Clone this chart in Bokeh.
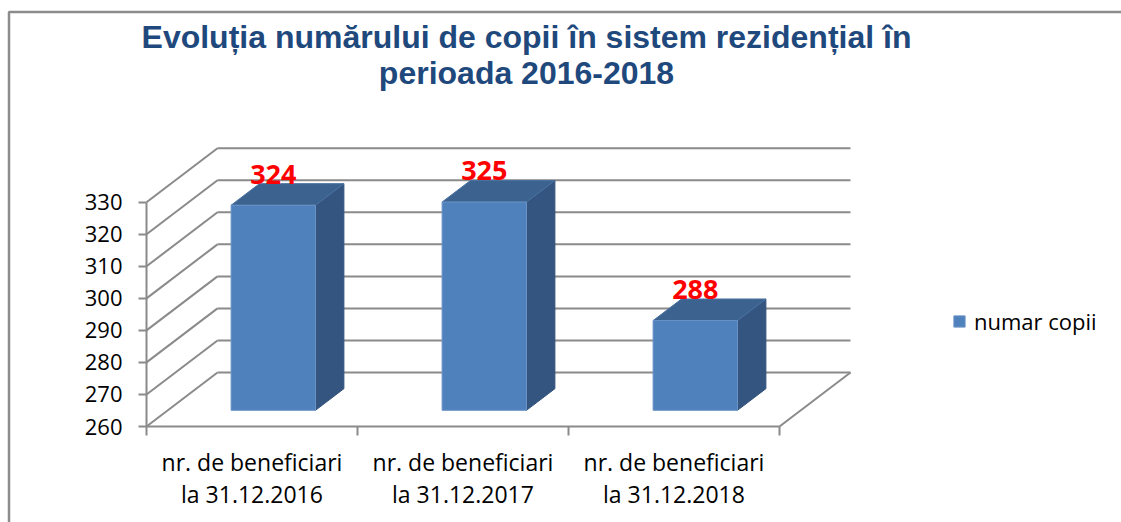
import numpy as np
from bokeh.plotting import figure
from bokeh.models import Range1d, LinearAxis, FixedTicker, Legend, LegendItem, Grid
from bokeh.core.properties import value
from bokeh.embed import file_html
from bokeh.resources import INLINE

# ---------------- data ----------------
categories = [
    "nr. de beneficiari\nla 31.12.2016",
    "nr. de beneficiari\nla 31.12.2017",
    "nr. de beneficiari\nla 31.12.2018",
]
numar_copii = [324, 325, 288]
y_ticks = [260, 270, 280, 290, 300, 310, 320, 330]
series_name = "numar copii"
title_lines = [
    "Evoluția numărului de copii în sistem rezidențial în",
    "perioada 2016-2018",
]

# ---------------- layout ----------------
W, H = 1121, 522
X0 = 146.0   # px where the category axis starts
XU = 211.0   # px per category
Y0 = 426.0   # px (from top) of the value-axis base
YU = 3.204   # px per value unit
BASE = y_ticks[0]
TOP = y_ticks[-1]
N = len(categories)


def fx(px):
    return (px - X0) / XU


def fy(py):
    return BASE + (Y0 - py) / YU


DX = 71.0 / XU       # full depth, x units
DY = 54.0 / YU       # full depth, value units
D0, D1 = 0.3, 0.7    # bar depth span
HALF = 0.2           # half bar width (category units)

GRID = "#8A8A8A"
FRONT = "#4F81BD"
SIDE = "#34557F"
TOPC = "#3C6390"

p = figure(width=W, height=H, output_backend="svg", toolbar_location=None,
           x_range=Range1d(fx(0), fx(W)), y_range=Range1d(fy(H), fy(0)),
           x_axis_location=None, y_axis_location=None, min_border=0)
p.outline_line_color = None
p.background_fill_color = "white"
p.border_fill_color = "white"

# chart-area border (top + left)
p.line(x=[fx(8.5), fx(8.5), fx(W + 5)], y=[fy(H + 5), fy(11.5), fy(11.5)],
       line_color="#8C8C8C", line_width=2.5)

# ---------------- walls ----------------
nt = len(y_ticks)
p.segment(x0=[DX] * nt, y0=[t + DY for t in y_ticks],
          x1=[N + DX] * nt, y1=[t + DY for t in y_ticks],
          line_color=GRID, line_width=2)
p.segment(x0=[0] * nt, y0=y_ticks, x1=[DX] * nt, y1=[t + DY for t in y_ticks],
          line_color=GRID, line_width=2)
p.segment(x0=[N], y0=[BASE], x1=[N + DX], y1=[BASE + DY],
          line_color=GRID, line_width=2)

# ---------------- bars ----------------
cx = np.arange(N) + 0.5
v = np.array(numar_copii, dtype=float)
L0 = cx - HALF + D0 * DX
R0 = cx + HALF + D0 * DX
L1 = cx - HALF + D1 * DX
R1 = cx + HALF + D1 * DX
yb0 = BASE + D0 * DY
yb1 = BASE + D1 * DY
yt0 = v + D0 * DY
yt1 = v + D1 * DY

side_xs = [[R0[i], R1[i], R1[i], R0[i]] for i in range(N)]
side_ys = [[yb0, yb1, yt1[i], yt0[i]] for i in range(N)]
top_xs = [[L0[i], R0[i], R1[i], L1[i]] for i in range(N)]
top_ys = [[yt0[i], yt0[i], yt1[i], yt1[i]] for i in range(N)]

p.patches(side_xs, side_ys, fill_color=SIDE, line_color=SIDE, line_width=1)
p.patches(top_xs, top_ys, fill_color=TOPC, line_color="#4A71A0", line_width=1)
front = p.quad(left=L0, right=R0, bottom=yb0, top=yt0,
               fill_color=FRONT, line_color="#6A92C6", line_width=1)

# value labels
p.text(x=cx + D0 * DX, y=yt1, text=[str(x) for x in numar_copii],
       text_align="center", text_baseline="bottom", y_offset=0,
       text_font=value("Open Sans"), text_font_style="bold",
       text_font_size="27px", text_color="#FF0000")

# ---------------- axes ----------------
yaxis = LinearAxis(fixed_location=0, bounds=(BASE, TOP),
                   ticker=FixedTicker(ticks=y_ticks, minor_ticks=[]))
yaxis.axis_line_color = GRID
yaxis.axis_line_width = 2
yaxis.major_tick_line_color = GRID
yaxis.major_tick_line_width = 2
yaxis.major_tick_out = 8
yaxis.major_tick_in = 0
yaxis.minor_tick_line_color = None
yaxis.major_label_text_font = "Open Sans"
yaxis.major_label_text_font_size = "22px"
yaxis.major_label_text_color = "#000000"
yaxis.major_label_standoff = 16
p.add_layout(yaxis, "left")

xaxis = LinearAxis(fixed_location=BASE, bounds=(0, N),
                   ticker=FixedTicker(ticks=[float(c) for c in cx],
                                      minor_ticks=[float(i) for i in range(N + 1)]))
xaxis.major_label_overrides = {float(c): lab for c, lab in zip(cx, categories)}
xaxis.axis_line_color = GRID
xaxis.axis_line_width = 2
xaxis.major_tick_line_color = None
xaxis.major_tick_out = 9
xaxis.major_tick_in = 0
xaxis.minor_tick_line_color = GRID
xaxis.minor_tick_line_width = 2
xaxis.minor_tick_out = 9
xaxis.minor_tick_in = 0
xaxis.major_label_text_font = "Open Sans"
xaxis.major_label_text_font_size = "23px"
xaxis.major_label_text_color = "#000000"
xaxis.major_label_text_line_height = 1.0
xaxis.major_label_standoff = 10
p.add_layout(xaxis, "below")

# remove any default grids
for r in list(p.center):
    if isinstance(r, Grid):
        r.visible = False

# ---------------- legend ----------------
legend = Legend(items=[LegendItem(label=series_name, renderers=[front])],
                location=(952, 186), orientation="vertical",
                glyph_width=14, glyph_height=14, label_standoff=8,
                padding=0, margin=0, spacing=0,
                border_line_color=None, background_fill_alpha=0,
                label_text_font="Open Sans", label_text_font_size="22px",
                label_text_color="#000000")
p.add_layout(legend)

# ---------------- title ----------------
p.text(x=[fx(526)] * 2, y=[fy(36), fy(72)], text=title_lines,
       text_align="center", text_baseline="middle",
       text_font=value("Liberation Sans"), text_font_style="bold",
       text_font_size="32px", text_color="#1F497D")

open("out.html", "w").write(file_html(p, INLINE))
